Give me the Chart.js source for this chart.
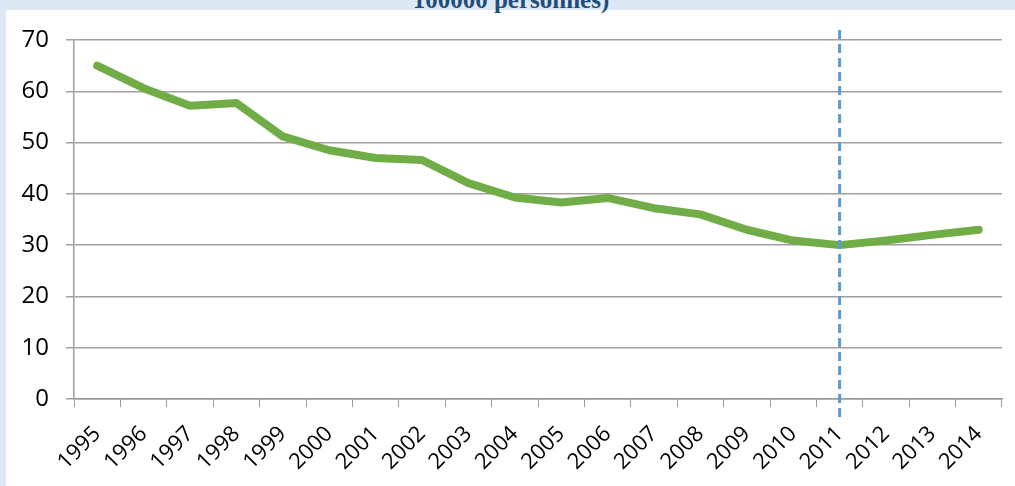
<!DOCTYPE html>
<html>
<head>
<meta charset="utf-8">
<script src="https://cdn.jsdelivr.net/npm/chart.js"></script>
<style>
  html, body { margin: 0; padding: 0; }
  body { width: 1015px; height: 486px; background: #dde8f4; position: relative; overflow: hidden; }
  #panel { position: absolute; left: 6px; top: 10px; right: 0; bottom: 0; background: #ffffff; }
  #title { position: absolute; left: 0; width: 1022px; top: -13px; text-align: center; line-height: 25px;
    font-family: "Liberation Serif", serif; font-weight: bold; font-size: 25px; color: #1f4e79; }
  #wrap { position: absolute; left: 0; top: 0; width: 1015px; height: 486px; }
</style>
</head>
<body>
<div id="panel"></div>
<div id="title">100000 personnes)</div>
<div id="wrap"><canvas id="chart"></canvas></div>
<script>
const years = ["1995", "1996", "1997", "1998", "1999", "2000", "2001", "2002", "2003", "2004",
  "2005", "2006", "2007", "2008", "2009", "2010", "2011", "2012", "2013", "2014"];
const rates = [65, 60.6, 57.2, 57.7, 51.2, 48.5, 47, 46.6, 42.1, 39.3,
  38.3, 39.2, 37.2, 36, 33, 30.9, 30, 30.9, 32, 33];
const markerYear = "2011";

// vertical dashed line at the marker year
const markerLine = {
  id: "markerLine",
  afterDatasetsDraw(chart) {
    const ctx = chart.ctx;
    const x = chart.scales.x.getPixelForValue(years.indexOf(markerYear));
    ctx.save();
    ctx.strokeStyle = "#5b9bd5";
    ctx.lineWidth = 3;
    ctx.setLineDash([9, 5]);
    ctx.beginPath();
    ctx.moveTo(x, 30);
    ctx.lineTo(x, 421);
    ctx.stroke();
    ctx.restore();
  }
};

const ctx = document.getElementById("chart").getContext("2d");
new Chart(ctx, {
  type: "line",
  data: {
    labels: years,
    datasets: [
      {
        data: rates,
        borderColor: "#70ad47",
        borderWidth: 8,
        borderCapStyle: "round",
        borderJoinStyle: "round",
        pointRadius: 0,
        tension: 0,
      },
    ],
  },
  options: {
    responsive: true,
    maintainAspectRatio: false,
    animation: false,
    layout: { padding: { left: 0, right: 13, top: 40, bottom: 0 } },
    plugins: {
      legend: { display: false },
      tooltip: { enabled: false },
    },
    scales: {
      x: {
        type: "category",
        offset: true,
        afterFit: (scale) => { scale.height = 87; },
        grid: {
          offset: true,
          drawOnChartArea: false,
          color: "#9a9a9a",
          tickLength: 8,
        },
        border: { color: "#9a9a9a", width: 1.5 },
        ticks: {
          minRotation: 45,
          maxRotation: 45,
          autoSkip: false,
          color: "#000000",
          padding: 14,
          font: { family: "'Open Sans', sans-serif", size: 22 },
        },
      },
      y: {
        min: 0,
        max: 70,
        afterFit: (scale) => { scale.width = 74; },
        grid: {
          color: "#a0a0a0",
          lineWidth: 1.5,
          tickLength: 8,
        },
        border: { color: "#a0a0a0", width: 1.5 },
        ticks: {
          stepSize: 10,
          color: "#000000",
          padding: 17,
          font: { family: "'Open Sans', sans-serif", size: 24 },
        },
      },
    },
  },
  plugins: [markerLine],
});
</script>
</body>
</html>
